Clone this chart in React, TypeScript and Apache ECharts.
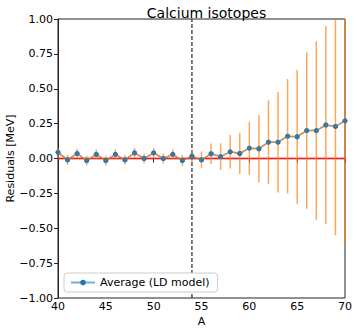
import React, { useEffect, useRef } from "react";
import * as echarts from "echarts";

const massNumbers = [40, 41, 42, 43, 44, 45, 46, 47, 48, 49, 50, 51, 52, 53, 54, 55, 56, 57, 58, 59, 60, 61, 62, 63, 64, 65, 66, 67, 68, 69, 70];
const residuals = [0.044, -0.01, 0.035, -0.015, 0.03, -0.015, 0.03, -0.01, 0.04, 0.0, 0.04, 0.0, 0.03, -0.015, 0.017, -0.01, 0.034, 0.014, 0.048, 0.036, 0.074, 0.07, 0.117, 0.117, 0.16, 0.156, 0.2, 0.2, 0.24, 0.23, 0.27];
const errors = [0.035, 0.035, 0.035, 0.035, 0.035, 0.035, 0.035, 0.035, 0.035, 0.035, 0.035, 0.035, 0.035, 0.04, 0.045, 0.06, 0.073, 0.095, 0.12, 0.148, 0.19, 0.24, 0.3, 0.36, 0.41, 0.48, 0.56, 0.64, 0.71, 0.78, 0.875];
const dividerA = 54;
const seriesName = "Average (LD model)";

const FONT = "DejaVu Sans";

export default function App() {
  const ref = useRef<HTMLDivElement>(null);
  useEffect(() => {
    if (!ref.current) return;
    const chart = echarts.init(ref.current, null, { renderer: "svg" });
    const pts = massNumbers.map((a, i) => [a, residuals[i]]);
    const errData = massNumbers.map((a, i) => [a, residuals[i], errors[i]]);
    chart.setOption({
      animation: false,
      backgroundColor: "#fff",
      title: {
        text: "Calcium isotopes",
        left: 201.5,
        textAlign: "center",
        top: 1,
        textStyle: { fontFamily: FONT, fontSize: 14, fontWeight: "normal", color: "#000" },
      },
      grid: {
        left: 58,
        right: 12,
        top: 19,
        bottom: 35,
        containLabel: false,
        outerBoundsMode: "none",
        show: true,
        borderColor: "#222",
        borderWidth: 1,
        backgroundColor: "transparent",
      },
      legend: {
        data: [seriesName],
        left: 64,
        top: 273,
        orient: "horizontal",
        itemWidth: 24,
        itemHeight: 7,
        padding: [4, 8, 4, 6],
        borderColor: "#cccccc",
        borderWidth: 1,
        borderRadius: 3,
        backgroundColor: "#fff",
        textStyle: { fontFamily: FONT, fontSize: 11, color: "#000" },
      },
      xAxis: {
        type: "value",
        min: 40,
        max: 70,
        interval: 5,
        name: "A",
        nameLocation: "middle",
        nameGap: 18,
        nameMoveOverlap: false,
        nameTextStyle: { fontFamily: FONT, fontSize: 11, color: "#000" },
        axisLine: { show: true, lineStyle: { color: "#222" } },
        axisTick: { show: true, length: 4, lineStyle: { color: "#222" } },
        axisLabel: { fontFamily: FONT, fontSize: 11, color: "#000", margin: 3 },
        splitLine: { show: false },
      },
      yAxis: {
        type: "value",
        min: -1,
        max: 1,
        interval: 0.25,
        name: "Residuals [MeV]",
        nameLocation: "middle",
        nameGap: 42,
        nameRotate: 90,
        nameMoveOverlap: false,
        nameTextStyle: { fontFamily: FONT, fontSize: 11, color: "#000" },
        axisLine: { show: true, lineStyle: { color: "#222" } },
        axisTick: { show: true, length: 4, lineStyle: { color: "#222" } },
        axisLabel: {
          fontFamily: FONT,
          fontSize: 11,
          color: "#000",
          margin: 5,
          formatter: (v: number) => (v < 0 ? "\u2212" : "") + Math.abs(v).toFixed(2),
        },
        splitLine: { show: false },
      },
      series: [
        {
          name: "zero",
          type: "line",
          data: [[40, 0], [70, 0]],
          symbol: "none",
          lineStyle: { color: "#ff3030", width: 2, opacity: 0.8 },
          z: 1,
          silent: true,
        },
        {
          name: "divider",
          type: "line",
          data: [[dividerA, -1], [dividerA, 1]],
          symbol: "none",
          lineStyle: { color: "#444", width: 1.4, type: [4, 2] },
          z: 1,
          silent: true,
        },
        {
          name: seriesName,
          type: "line",
          data: pts,
          symbol: "circle",
          symbolSize: 5,
          showSymbol: true,
          itemStyle: { color: "#1f77b4" },
          lineStyle: { color: "#1f77b4", width: 1.5, opacity: 0.6 },
          z: 2,
        },
        {
          name: "errbars",
          type: "custom",
          data: errData,
          encode: { x: 0, y: 1 },
          z: 3,
          renderItem: (params: any, api: any) => {
            const a = api.value(0);
            const v = api.value(1);
            const e = api.value(2);
            const lo = Math.max(-1, v - e);
            const hi = Math.min(1, v + e);
            const p1 = api.coord([a, lo]);
            const p2 = api.coord([a, hi]);
            return {
              type: "line",
              shape: { x1: p1[0], y1: p1[1], x2: p2[0], y2: p2[1] },
              style: { stroke: "#ff7f0e", lineWidth: 1.5, opacity: 0.7 },
            };
          },
        },
        {
          name: "errline",
          type: "line",
          data: pts,
          symbol: "none",
          lineStyle: { color: "#ff7f0e", width: 1.5, opacity: 0.7 },
          z: 4,
        },
        {
          name: "markers",
          type: "scatter",
          data: pts,
          symbol: "circle",
          symbolSize: 5,
          itemStyle: { color: "#1f77b4" },
          z: 5,
        },
      ],
    });
    return () => chart.dispose();
  }, []);
  return <div ref={ref} style={{ position: "absolute", left: 0, top: 0, width: 357, height: 333 }} />;
}
